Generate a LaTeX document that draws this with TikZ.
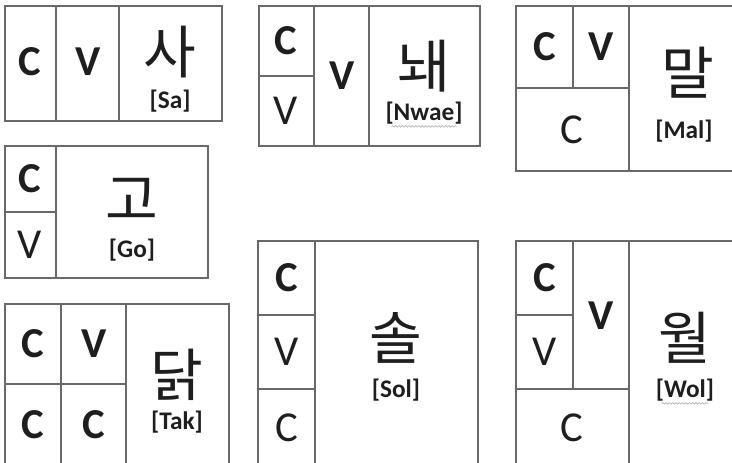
\documentclass[tikz,border=0pt]{standalone}
\usepackage{fontspec}
\setmainfont{Carlito}
\newfontfamily\krfont{Noto Sans CJK KR}
\usetikzlibrary{calc,decorations.pathmorphing}
\definecolor{linegray}{RGB}{105,105,105}
\definecolor{inkgray}{RGB}{30,30,30}

\begin{document}
\begin{tikzpicture}[
    x=0.75pt, y=-0.75pt,
    every node/.style={text=inkgray, inner sep=0pt},
    box/.style={draw=linegray, line width=1.1pt},
    strong/.style={font=\fontsize{32}{32}\selectfont\bfseries},
    weak/.style={font=\fontsize{32}{32}\selectfont},
    syllable/.style={font=\fontsize{43}{43}\krfont},
    roman/.style={font=\fontsize{19}{19}\selectfont\bfseries},
    squiggle/.style={draw=gray!60, line width=0.5pt, decorate, decoration={snake, amplitude=0.6pt, segment length=2.5pt}}
]

% Canvas
\useasboundingbox (0,0) rectangle (732,462);
\clip (0,0) rectangle (732,462);

% Sa: C | V
\draw[box] (5,6) rectangle (222,121);
\draw[box] (56,6) -- (56,121);
\draw[box] (119,6) -- (119,121);
\node[strong] (saC) at (30,62) {C};
\node[strong] (saV) at (88,62) {V};
\node[syllable] (saK) at (170,52) {사};
\node[roman] (saR) at (170,101) {[Sa]};

% Go: C over V
\draw[box] (5,146) rectangle (208,278);
\draw[box] (56,146) -- (56,278);
\draw[box] (5,212) -- (56,212);
\node[strong] (goC) at (30,179) {C};
\node[weak] (goV) at (30,245) {V};
\node[syllable] (goK) at (132,199) {고};
\node[roman] (goR) at (132,250) {[Go]};

% Tak: C V over C C
\draw[box] (5,304) rectangle (229,490);
\draw[box] (61,304) -- (61,490);
\draw[box] (126,304) -- (126,490);
\draw[box] (5,384) -- (126,384);
\node[strong] (takC1) at (33,344) {C};
\node[strong] (takV) at (94,344) {V};
\node[strong] (takC2) at (33,425) {C};
\node[strong] (takC3) at (94,425) {C};
\node[syllable] (takK) at (177,375) {닭};
\node[roman] (takR) at (177,422) {[Tak]};

% Nwae: C over V, then V
\draw[box] (259,6) rectangle (480,146);
\draw[box] (314,6) -- (314,146);
\draw[box] (369,6) -- (369,146);
\draw[box] (259,76) -- (314,76);
\node[strong] (nwaeC) at (286,41) {C};
\node[weak] (nwaeV1) at (286,111) {V};
\node[strong] (nwaeV2) at (342,76) {V};
\node[syllable] (nwaeK) at (424,66) {놰};
\node[roman] (nwaeR) at (424,113) {[Nwae]};
\draw[squiggle] ($(nwaeR.south west)+(6,2)$) -- ($(nwaeR.south east)+(-6,2)$);

% Sol: C over V over C
\draw[box] (258,241) rectangle (478,490);
\draw[box] (315,241) -- (315,490);
\draw[box] (258,315) -- (315,315);
\draw[box] (258,389) -- (315,389);
\node[strong] (solC1) at (287,278) {C};
\node[weak] (solV) at (287,352) {V};
\node[weak] (solC2) at (287,428) {C};
\node[syllable] (solK) at (396,338) {솔};
\node[roman] (solR) at (396,390) {[Sol]};

% Mal: C V over C
\draw[box] (516,6) rectangle (770,171);
\draw[box] (573,6) -- (573,88);
\draw[box] (629,6) -- (629,171);
\draw[box] (516,88) -- (629,88);
\node[strong] (malC1) at (545,47) {C};
\node[strong] (malV) at (601,47) {V};
\node[weak] (malC2) at (572,130) {C};
\node[syllable] (malK) at (688,73) {말};
\node[roman] (malR) at (684,131) {[Mal]};

% Wol: C over V, then V, over C
\draw[box] (516,241) rectangle (770,490);
\draw[box] (573,241) -- (573,389);
\draw[box] (629,241) -- (629,490);
\draw[box] (516,315) -- (573,315);
\draw[box] (516,389) -- (629,389);
\node[strong] (wolC1) at (545,278) {C};
\node[weak] (wolV1) at (545,352) {V};
\node[strong] (wolV2) at (601,316) {V};
\node[weak] (wolC2) at (572,428) {C};
\node[syllable] (wolK) at (685,338) {월};
\node[roman] (wolR) at (685,390) {[Wol]};
\draw[squiggle] ($(wolR.south west)+(6,2)$) -- ($(wolR.south east)+(-6,2)$);

\end{tikzpicture}
\end{document}
